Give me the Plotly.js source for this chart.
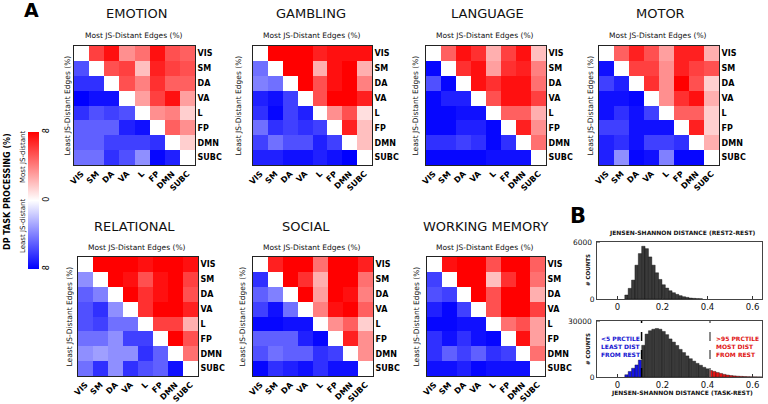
<!DOCTYPE html>
<html>
<head>
<meta charset="utf-8">
<script src="https://cdn.plot.ly/plotly-3.0.1.min.js"></script>
<style>
  html, body { margin: 0; padding: 0; background: #fff; }
  #chart { width: 768px; height: 404px; }
</style>
</head>
<body>
<div id="chart"></div>
<script>
// networks (rows top->bottom, columns left->right)
const networks = ["VIS", "SM", "DA", "VA", "L", "FP", "DMN", "SUBC"];

// upper triangle: % most JS-distant edges (+), lower triangle: % least JS-distant edges (-)
const emotion = [
  [null, 6, 7.5, 3.5, 4.5, 7.5, 5.5, 5],
  [-5.5, null, 5.5, 6, 2, 7, 6, 5.5],
  [-6.5, -6.5, null, 5.5, 4, 6.5, 5, 5],
  [-8, -7.5, -7.5, null, 3, 6, 7.5, 3],
  [-6.5, -5.5, -6, -5.5, null, 3.5, 4, 1.5],
  [-5, -5, -5, -7, -7.5, null, 5, 3.5],
  [-5, -5, -6, -6, -6, -6.5, null, 1.5],
  [-4.5, -4.5, -6.5, -5.5, -3.5, -7.8, -7, null]
];
const gambling = [
  [null, 8, 8, 8, 7, 7.5, 7.5, 7.5],
  [-4.5, null, 8, 8, 2.5, 7.5, 8, 2.5],
  [-4, -4.5, null, 8, 5.5, 7.5, 8, 4],
  [-7, -7.5, -6, null, 5.5, 8, 8, 7],
  [-6.5, -7.8, -6, -7, null, 3.5, 5.5, 1],
  [-4.5, -6.5, -6, -6.5, -6, null, 7, 2],
  [-6, -4.5, -5.5, -5.5, -7, -6, null, 2],
  [-7, -7, -7.5, -7.5, -7, -7.5, -8, null]
];
const language = [
  [null, 5, 7.5, 6.5, 2.5, 6, 7.5, 2],
  [-7.8, null, 6.5, 7.5, 3, 6.5, 7, 4],
  [-5.5, -7.8, null, 7.5, 6.5, 7.5, 7.5, 4.5],
  [-7.8, -7, -7, null, 5.5, 7.5, 7.5, 6],
  [-7.8, -7.8, -7.5, -7.5, null, 5, 5, 2.5],
  [-7.8, -7.8, -7, -7, -7.8, null, 7, 3.5],
  [-6.5, -6.5, -6, -6.5, -7.8, -6.5, null, 4.5],
  [-7.8, -7.8, -7.8, -7.8, -7.5, -7.5, -7.5, null]
];
const motor = [
  [null, 5, 7, 5.5, 3, 7, 7, 2.5],
  [-7.5, null, 6, 6, 3.5, 7, 6, 5.5],
  [-6, -7, null, 6.5, 3.5, 8, 5.5, 1.5],
  [-7.5, -7.5, -7.8, null, 3.5, 6.5, 7.5, 2.5],
  [-7.5, -6.5, -7.5, -6, null, 5, 5, 1.5],
  [-6, -6, -7.5, -7.5, -7.5, null, 7, 1.5],
  [-7, -6.5, -7.5, -6, -6, -6.5, null, 2.5],
  [-7, -3.5, -7.8, -7.5, -4, -7.8, -7.8, null]
];
const relational = [
  [null, 8, 8, 8, 7.5, 8, 8, 7.5],
  [-3.5, null, 8, 7.5, 5.5, 7.5, 8, 6],
  [-5, -4, null, 8, 6.5, 7.5, 8, 5.5],
  [-5.5, -6.5, -3.5, null, 6.5, 8, 8, 7],
  [-5.5, -6, -4.5, -4.5, null, 6, 6, 2.5],
  [-4.5, -4.5, -3.5, -6, -6, null, 8, 5.5],
  [-3.5, -3, -3.5, -3.5, -6.5, -5, null, 4.5],
  [-4.5, -6.5, -3.5, -6.5, -5.5, -5, -7.5, null]
];
const social = [
  [null, 7, 8, 8, 4.5, 8, 8, 7],
  [-6.5, null, 8, 6.5, 2.5, 8, 8, 4.5],
  [-5, -4, null, 8, 3, 8, 7.5, 4],
  [-6, -7.5, -4.5, null, 4, 7.5, 8, 5],
  [-7.8, -7.8, -7.5, -7.5, null, 3.5, 5, 1.5],
  [-5, -5, -5, -7, -7.8, null, 7, 3.5],
  [-5.5, -4.5, -5, -5, -6.5, -6, null, 3.5],
  [-7.8, -6.5, -7, -7.5, -6.5, -7.5, -7.5, null]
];
const workingMemory = [
  [null, 7.5, 8, 8, 5.5, 8, 8, 5],
  [-6, null, 8, 8, 2, 6.5, 8, 4.5],
  [-5.5, -6, null, 8, 5.5, 8, 8, 2.5],
  [-7, -7.8, -6, null, 5.5, 8, 8, 6],
  [-7.8, -7.8, -7.5, -7.5, null, 4.5, 5.5, 3],
  [-6.5, -7.5, -6.5, -7.5, -7.8, null, 7.5, 3],
  [-6.5, -5, -6, -5, -6.5, -6, null, 4.5],
  [-7.5, -7.5, -7, -7.8, -7.5, -7.5, -7.5, null]
];

const taskNames = ["EMOTION", "GAMBLING", "LANGUAGE", "MOTOR", "RELATIONAL", "SOCIAL", "WORKING MEMORY"];
const taskMatrices = [emotion, gambling, language, motor, relational, social, workingMemory];

// histograms (panel B)
const binCenters = [0.040, 0.055, 0.070, 0.085, 0.100, 0.115, 0.130, 0.145, 0.160, 0.175,
  0.190, 0.205, 0.220, 0.235, 0.250, 0.265, 0.280, 0.295, 0.310, 0.325, 0.340, 0.355,
  0.370, 0.385, 0.400, 0.415, 0.430, 0.445, 0.460, 0.475, 0.490, 0.505, 0.520, 0.535,
  0.550, 0.565, 0.580, 0.595, 0.610, 0.625, 0.640];
const binWidth = 0.015;
const restCounts = [420, 1120, 1990, 3560, 4780, 5550, 5300, 4430, 3560, 2760, 2060, 1500,
  1150, 870, 660, 490, 350, 240, 170, 100, 70, 40, 30];
const taskCounts = [1220, 2970, 4700, 6450, 9070, 17000, 23000, 24800, 25600, 26000, 25600,
  24400, 22700, 20400, 18700, 16900, 14800, 13100, 11300, 9800, 8500, 7300, 6300, 5200,
  4400, 3500, 3000, 2400, 1900, 1400, 1050, 800, 600, 450, 350, 250, 170, 120, 80, 50, 30];
const lowCut = 0.107;   // 5th percentile
const highCut = 0.411;  // 95th percentile
const restMax = 6000;
const taskMax = 30000;

const W = 768, H = 404;
const px = v => v / W;
const py = v => 1 - v / H;

// pixel boxes of each heatmap, title centre, y-label centre
const panels = [
  { x0: 74, x1: 195, y0: 46, y1: 165, tx: 136, ty: 13, lx: 67 },
  { x0: 253, x1: 372, y0: 46, y1: 165, tx: 311, ty: 13, lx: 238 },
  { x0: 426, x1: 546, y0: 46, y1: 165, tx: 487, ty: 13, lx: 415 },
  { x0: 599, x1: 719, y0: 46, y1: 165, tx: 660, ty: 13, lx: 590 },
  { x0: 78, x1: 198, y0: 257, y1: 376, tx: 134, ty: 226, lx: 69 },
  { x0: 253, x1: 373, y0: 257, y1: 376, tx: 306, ty: 226, lx: 242 },
  { x0: 427, x1: 545, y0: 257, y1: 376, tx: 485, ty: 226, lx: 416 }
];

const bwr = [[0, "rgb(0,0,255)"], [0.5, "rgb(255,255,255)"], [1, "rgb(255,0,0)"]];
const boldTick = { family: "DejaVu Sans", size: 8, color: "#000", weight: "bold" };

const traces = [];
const layout = {
  width: W, height: H,
  margin: { l: 0, r: 0, t: 0, b: 0 },
  paper_bgcolor: "#fff", plot_bgcolor: "#fff",
  font: { family: "DejaVu Sans", color: "#000" },
  showlegend: false,
  annotations: [],
  shapes: []
};

function ann(text, x, y, opts) {
  layout.annotations.push(Object.assign({
    text, x: px(x), y: py(y), xref: "paper", yref: "paper",
    showarrow: false, xanchor: "center", yanchor: "middle",
    font: { size: 8, color: "#000" }
  }, opts || {}));
}

taskMatrices.forEach((z, i) => {
  const k = i + 1;
  const p = panels[i];
  const xa = k === 1 ? "x" : "x" + k;
  const ya = k === 1 ? "y" : "y" + k;
  const tr = {
    type: "heatmap", z, x: networks, y: networks,
    xaxis: xa, yaxis: ya,
    zmin: -8, zmax: 8, colorscale: bwr,
    showscale: i === 0, hoverongaps: false
  };
  if (i === 0) {
    tr.colorbar = {
      x: px(28), xanchor: "left", xpad: 0,
      y: py(200.5), yanchor: "middle", ypad: 0,
      len: 137, lenmode: "pixels", thickness: 11, thicknessmode: "pixels",
      outlinewidth: 0, ticks: "",
      tickvals: [-8, 0, 8], ticktext: ["8", "0", "8"], tickangle: -90,
      tickfont: { size: 8, color: "#000" }
    };
  }
  traces.push(tr);

  layout["xaxis" + (k === 1 ? "" : k)] = {
    domain: [px(p.x0), px(p.x1)], anchor: ya, automargin: false,
    tickangle: -45, tickfont: boldTick, ticks: "",
    showgrid: false, zeroline: false, showline: true, mirror: true,
    linecolor: "#222", linewidth: 1, fixedrange: true
  };
  layout["yaxis" + (k === 1 ? "" : k)] = {
    domain: [py(p.y1), py(p.y0)], anchor: xa, automargin: false,
    side: "right", autorange: "reversed", tickfont: boldTick, ticks: "",
    showgrid: false, zeroline: false, showline: true, mirror: true,
    linecolor: "#222", linewidth: 1, fixedrange: true
  };

  ann(taskNames[i], p.tx, p.ty, { font: { size: 13, color: "#111" } });
  ann("Most JS-Distant Edges (%)", (p.x0 + p.x1) / 2 - 1, p.y0 - 10, { font: { size: 7.5, color: "#111" } });
  ann("Least JS-Distant Edges (%)", p.lx, (p.y0 + p.y1) / 2, { textangle: -90, font: { size: 7.5, color: "#111" } });
});

// colorbar side texts + panel letters
ann("DP TASK PROCESSING (%)", 7, 192, { textangle: -90, font: { size: 8, color: "#000", weight: "bold" } });
ann("Most JS-distant", 23, 157, { textangle: -90, font: { size: 7, color: "#111" } });
ann("Least JS-distant", 23, 226, { textangle: -90, font: { size: 7, color: "#111" } });
ann("A", 31, 10, { font: { size: 19, color: "#000", weight: "bold" } });
ann("B", 578, 216, { font: { size: 21, color: "#000", weight: "bold" } });

// histogram axes
const histX = {
  range: [-0.091, 0.642], tickvals: [0, 0.2, 0.4, 0.6], ticktext: ["0", "0.2", "0.4", "0.6"],
  tickfont: { size: 8.5, color: "#111" }, ticks: "inside", ticklen: 3, tickcolor: "#333",
  showgrid: false, zeroline: false, showline: true, mirror: true,
  linecolor: "#444", linewidth: 1, automargin: false, fixedrange: true
};
const histY = {
  tickfont: { size: 7.5, color: "#111" }, ticks: "inside", ticklen: 3, tickcolor: "#333",
  showgrid: false, zeroline: false, showline: true, mirror: true, tickvals: [0],
  linecolor: "#444", linewidth: 1, automargin: false, fixedrange: true
};
layout.xaxis8 = Object.assign({}, histX, { domain: [px(597), px(762)], anchor: "y8" });
layout.yaxis8 = Object.assign({}, histY, { domain: [py(299), py(242)], anchor: "x8", range: [0, restMax] });
layout.xaxis9 = Object.assign({}, histX, { domain: [px(597), px(762)], anchor: "y9" });
layout.yaxis9 = Object.assign({}, histY, { domain: [py(377), py(321)], anchor: "x9", range: [0, taskMax] });

// top tick labels of the count axes
[["y8", restMax], ["y9", taskMax]].forEach(([ya, v]) => {
  layout.annotations.push({
    text: String(v), xref: "paper", yref: ya, x: px(594), y: v,
    xanchor: "right", yanchor: "middle", showarrow: false,
    font: { size: 7.5, color: "#111" }
  });
  layout.shapes.push({
    type: "line", xref: "paper", yref: ya, x0: px(597), x1: px(600), y0: v, y1: v,
    line: { color: "#333", width: 1 }
  });
});

traces.push({
  type: "bar", x: binCenters.slice(0, restCounts.length), y: restCounts,
  width: binWidth, xaxis: "x8", yaxis: "y8",
  marker: { color: "#3a3a3a", line: { color: "#000", width: 0.4 } }
});
traces.push({
  type: "bar", x: binCenters, y: taskCounts,
  width: binWidth, xaxis: "x9", yaxis: "y9",
  marker: {
    color: binCenters.map(v => v < lowCut ? "#1414e6" : (v > highCut ? "#e61414" : "#3a3a3a")),
    line: { color: "#111", width: 0.4 }
  }
});

layout.shapes.push(
  { type: "line", xref: "x9", yref: "y9 domain", x0: lowCut, x1: lowCut, y0: 0, y1: 1,
    layer: "above", line: { color: "#000", width: 1.5, dash: "dash" } },
  { type: "line", xref: "x9", yref: "y9 domain", x0: highCut, x1: highCut, y0: 0, y1: 1,
    layer: "above", line: { color: "#666", width: 1.5, dash: "dash" } }
);

ann("JENSEN-SHANNON DISTANCE (REST2-REST)", 682, 233, { font: { size: 6, color: "#111", weight: "bold" } });
ann("JENSEN-SHANNON DISTANCE (TASK-REST)", 682, 393, { font: { size: 6, color: "#111", weight: "bold" } });
ann("# COUNTS", 588, 270, { textangle: -90, font: { size: 5.5, color: "#111", weight: "bold" } });
ann("# COUNTS", 588, 349, { textangle: -90, font: { size: 5.5, color: "#111", weight: "bold" } });
ann("&lt;5 PRCTILE<br>LEAST DIST<br>FROM REST", 599, 333, {
  xanchor: "left", yanchor: "top", align: "left",
  font: { size: 6, color: "#1414d0", weight: "bold" }
});
ann("&gt;95 PRCTILE<br>MOST DIST<br>FROM REST", 714, 333, {
  xanchor: "left", yanchor: "top", align: "left",
  font: { size: 6, color: "#e01414", weight: "bold" }
});

Plotly.newPlot("chart", traces, layout, { displayModeBar: false, staticPlot: true });
</script>
</body>
</html>
